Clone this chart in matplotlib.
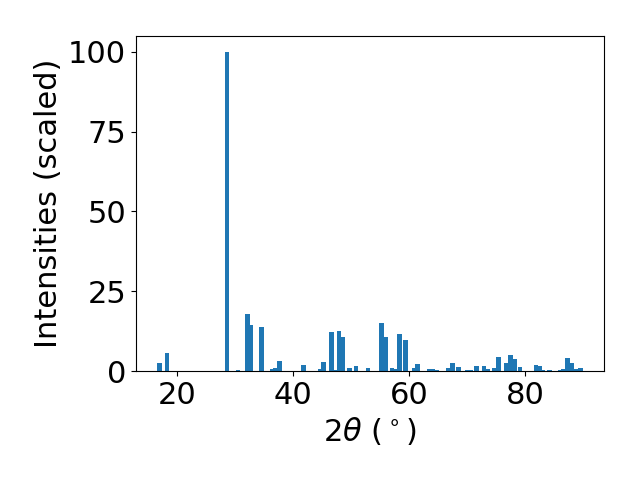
import matplotlib
matplotlib.use('Agg')
from matplotlib import pyplot as plt

# 2theta positions (degrees)
two_theta = [17.0, 18.3, 28.6, 30.5, 32.1, 32.7, 34.5, 36.4, 37.0, 37.6,
             41.8, 44.6, 45.2, 46.6, 47.1, 47.9, 48.5, 49.7, 50.8, 52.9,
             55.2, 55.9, 57.0, 57.6, 58.3, 59.3, 60.8, 61.4, 63.4, 64.1,
             64.8, 66.7, 67.4, 68.5, 70.0, 70.6, 71.6, 72.9, 73.5, 74.7,
             75.4, 76.8, 77.4, 78.1, 79.1, 81.8, 82.4, 83.0, 84.1, 86.0,
             86.6, 87.2, 88.0, 88.8, 89.5]
# scaled intensities
intensities = [2.5, 5.6, 100.0, 0.3, 17.9, 14.4, 13.8, 0.5, 0.8, 3.1,
               1.9, 0.6, 2.8, 12.2, 0.3, 12.5, 10.6, 0.8, 1.6, 0.8,
               15.0, 10.6, 1.0, 0.7, 11.6, 9.7, 1.0, 2.2, 0.7, 0.7,
               0.4, 1.0, 2.5, 1.3, 0.4, 0.4, 1.6, 1.6, 0.7, 1.0,
               4.4, 2.5, 5.0, 3.8, 1.3, 1.9, 1.6, 0.4, 0.4, 0.4,
               0.7, 4.1, 2.5, 0.7, 1.0]


def main():
    fig = plt.figure(figsize=(6.4, 4.8), dpi=100)
    ax = fig.add_subplot(111)
    ax.bar(two_theta, intensities, width=0.8, color='#1f77b4')

    ax.set_xticks([20, 40, 60, 80])
    ax.set_yticks([0, 25, 50, 75, 100])
    ax.tick_params(labelsize=22)
    ax.set_xlabel(r'2$\theta$ ($^\circ$)', fontsize=22)
    ax.set_ylabel('Intensities (scaled)', fontsize=22)

    fig.subplots_adjust(left=0.2125, right=0.944, bottom=0.227, top=0.925)
    fig.savefig('out.png', dpi=100)


if __name__ == '__main__':
    main()
